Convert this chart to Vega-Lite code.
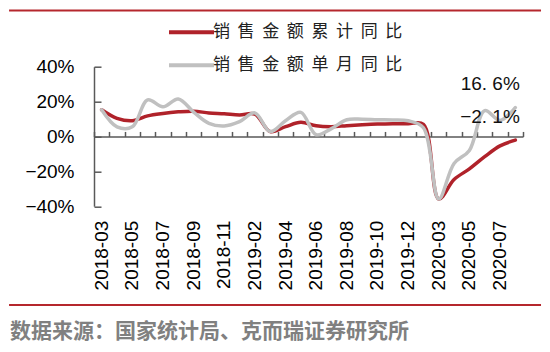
{
  "$schema": "https://vega.github.io/schema/vega-lite/v6.json",
  "width": 429,
  "height": 139.5,
  "autosize": {"type": "none"},
  "padding": {"left": 94, "top": 66.7, "right": 27, "bottom": 145.8},
  "background": "white",
  "config": {
    "view": {"stroke": null},
    "font": "Liberation Sans",
    "axisY": {"grid": false, "domainColor": "#595959", "domainWidth": 1.5, "tickColor": "#595959", "tickWidth": 1.5, "tickSize": -7, "labelPadding": 27, "labelFont": "Liberation Sans", "labelFontSize": 19, "labelColor": "#000000"}
  },
  "datasets": {
    "sales": [
      {"month": "2018-03", "series": "销售金额累计同比", "value": 15.3},
      {"month": "2018-04", "series": "销售金额累计同比", "value": 10.4},
      {"month": "2018-05", "series": "销售金额累计同比", "value": 9.0},
      {"month": "2018-06", "series": "销售金额累计同比", "value": 11.8},
      {"month": "2018-07", "series": "销售金额累计同比", "value": 13.2},
      {"month": "2018-08", "series": "销售金额累计同比", "value": 14.1},
      {"month": "2018-09", "series": "销售金额累计同比", "value": 14.5},
      {"month": "2018-10", "series": "销售金额累计同比", "value": 13.5},
      {"month": "2018-11", "series": "销售金额累计同比", "value": 13.0},
      {"month": "2018-12", "series": "销售金额累计同比", "value": 12.3},
      {"month": "2019-02", "series": "销售金额累计同比", "value": 12.8},
      {"month": "2019-03", "series": "销售金额累计同比", "value": 2.8},
      {"month": "2019-04", "series": "销售金额累计同比", "value": 5.6},
      {"month": "2019-05", "series": "销售金额累计同比", "value": 8.1},
      {"month": "2019-06", "series": "销售金额累计同比", "value": 6.1},
      {"month": "2019-07", "series": "销售金额累计同比", "value": 5.6},
      {"month": "2019-08", "series": "销售金额累计同比", "value": 6.2},
      {"month": "2019-09", "series": "销售金额累计同比", "value": 6.7},
      {"month": "2019-10", "series": "销售金额累计同比", "value": 7.1},
      {"month": "2019-11", "series": "销售金额累计同比", "value": 7.3},
      {"month": "2019-12", "series": "销售金额累计同比", "value": 7.3},
      {"month": "2020-02", "series": "销售金额累计同比", "value": 7.0},
      {"month": "2020-03", "series": "销售金额累计同比", "value": -35.9},
      {"month": "2020-04", "series": "销售金额累计同比", "value": -24.7},
      {"month": "2020-05", "series": "销售金额累计同比", "value": -18.6},
      {"month": "2020-06", "series": "销售金额累计同比", "value": -11.6},
      {"month": "2020-07", "series": "销售金额累计同比", "value": -5.4},
      {"month": "2020-08", "series": "销售金额累计同比", "value": -2.1, "note": "−2. 1%"},
      {"month": "2018-03", "series": "销售金额单月同比", "value": 15.3},
      {"month": "2018-04", "series": "销售金额单月同比", "value": 5.5},
      {"month": "2018-05", "series": "销售金额单月同比", "value": 5.5},
      {"month": "2018-06", "series": "销售金额单月同比", "value": 21.0},
      {"month": "2018-07", "series": "销售金额单月同比", "value": 17.0},
      {"month": "2018-08", "series": "销售金额单月同比", "value": 21.5},
      {"month": "2018-09", "series": "销售金额单月同比", "value": 14.0},
      {"month": "2018-10", "series": "销售金额单月同比", "value": 7.5},
      {"month": "2018-11", "series": "销售金额单月同比", "value": 6.0},
      {"month": "2018-12", "series": "销售金额单月同比", "value": 8.5},
      {"month": "2019-02", "series": "销售金额单月同比", "value": 13.5},
      {"month": "2019-03", "series": "销售金额单月同比", "value": 2.8},
      {"month": "2019-04", "series": "销售金额单月同比", "value": 9.0},
      {"month": "2019-05", "series": "销售金额单月同比", "value": 13.8},
      {"month": "2019-06", "series": "销售金额单月同比", "value": 1.0},
      {"month": "2019-07", "series": "销售金额单月同比", "value": 4.5},
      {"month": "2019-08", "series": "销售金额单月同比", "value": 9.6},
      {"month": "2019-09", "series": "销售金额单月同比", "value": 9.9},
      {"month": "2019-10", "series": "销售金额单月同比", "value": 9.6},
      {"month": "2019-11", "series": "销售金额单月同比", "value": 9.5},
      {"month": "2019-12", "series": "销售金额单月同比", "value": 9.0},
      {"month": "2020-02", "series": "销售金额单月同比", "value": 5.0},
      {"month": "2020-03", "series": "销售金额单月同比", "value": -35.9},
      {"month": "2020-04", "series": "销售金额单月同比", "value": -15.5},
      {"month": "2020-05", "series": "销售金额单月同比", "value": -8.0},
      {"month": "2020-06", "series": "销售金额单月同比", "value": 14.8},
      {"month": "2020-07", "series": "销售金额单月同比", "value": 9.2},
      {"month": "2020-08", "series": "销售金额单月同比", "value": 16.6, "note": "16. 6%"}
    ]
  },
  "title": {
    "text": "数据来源：国家统计局、克而瑞证券研究所",
    "orient": "bottom",
    "anchor": "start",
    "frame": "group",
    "dx": -84,
    "offset": 15,
    "font": "Noto Sans CJK SC",
    "fontWeight": "bold",
    "fontSize": 21,
    "color": "#808080",
    "baseline": "top"
  },
  "layer": [
    {
      "data": {"name": "sales"},
      "layer": [
        {
          "transform": [{"filter": "datum.series === '销售金额累计同比'"}],
          "mark": {"type": "line", "interpolate": "catmull-rom", "strokeWidth": 3.5, "strokeCap": "round"},
          "encoding": {
            "x": {
              "field": "month", "type": "ordinal",
              "scale": {"type": "band", "paddingInner": 0, "paddingOuter": 0},
              "axis": {
                "orient": "bottom", "domain": false, "ticks": false, "title": null,
                "values": ["2018-03", "2018-05", "2018-07", "2018-09", "2018-11", "2019-02", "2019-04", "2019-06", "2019-08", "2019-10", "2019-12", "2020-03", "2020-05", "2020-07"],
                "labelAngle": -90, "labelAlign": "right", "labelBaseline": "middle", "labelPadding": 14,
                "labelFont": "Liberation Sans", "labelFontSize": 19, "labelColor": "#000000", "labelOverlap": false
              }
            },
            "y": {"field": "value", "type": "quantitative", "scale": {"domain": [-40, 40]}, "axis": {"values": [-40, -20, 0, 20, 40], "labelExpr": "replace(datum.value + '%', '-', '−')", "title": null}},
            "color": {
              "field": "series", "type": "nominal",
              "scale": {"domain": ["销售金额累计同比", "销售金额单月同比"], "range": ["#B0222A", "#C0C0C0"]},
              "legend": {"orient": "none", "legendX": 73, "legendY": -59, "direction": "vertical", "title": null, "symbolType": "stroke", "symbolSize": 2025, "symbolStrokeWidth": 4, "labelFont": "Noto Sans CJK SC", "labelFontSize": 17, "labelColor": "#222222", "labelOffset": -3, "labelLimit": 400, "rowPadding": -12, "labelExpr": "join(split(datum.label, ''), '\u00a0\u00a0')"}
            }
          }
        },
        {
          "transform": [{"filter": "datum.series === '销售金额单月同比'"}],
          "mark": {"type": "line", "interpolate": "catmull-rom", "strokeWidth": 3.5, "strokeCap": "round"},
          "encoding": {
            "x": {
              "field": "month", "type": "ordinal",
              "scale": {"type": "band", "paddingInner": 0, "paddingOuter": 0},
              "axis": {"orient": "top", "offset": -69.75, "labels": false, "domain": true, "ticks": true, "tickBand": "extent", "tickSize": 5, "domainColor": "#595959", "domainWidth": 1.5, "tickColor": "#595959", "tickWidth": 1.5, "title": null}
            },
            "y": {"field": "value", "type": "quantitative", "scale": {"domain": [-40, 40]}, "axis": {"values": [-40, -20, 0, 20, 40], "labelExpr": "replace(datum.value + '%', '-', '−')", "title": null}},
            "color": {
              "field": "series", "type": "nominal",
              "scale": {"domain": ["销售金额累计同比", "销售金额单月同比"], "range": ["#B0222A", "#C0C0C0"]},
              "legend": {"orient": "none", "legendX": 73, "legendY": -59, "direction": "vertical", "title": null, "symbolType": "stroke", "symbolSize": 2025, "symbolStrokeWidth": 4, "labelFont": "Noto Sans CJK SC", "labelFontSize": 17, "labelColor": "#222222", "labelOffset": -3, "labelLimit": 400, "rowPadding": -12, "labelExpr": "join(split(datum.label, ''), '\u00a0\u00a0')"}
            }
          }
        },
        {
          "transform": [{"filter": "datum.note"}],
          "mark": {"type": "text", "align": "right", "baseline": "middle", "dx": 4.5, "dy": -23.5, "font": "Liberation Sans", "fontSize": 19, "color": "#111111"},
          "encoding": {
            "x": {"field": "month", "type": "ordinal", "scale": {"type": "band", "paddingInner": 0, "paddingOuter": 0}, "axis": null},
            "y": {"field": "value", "type": "quantitative", "scale": {"domain": [-40, 40]}, "axis": {"values": [-40, -20, 0, 20, 40], "labelExpr": "replace(datum.value + '%', '-', '−')", "title": null}},
            "text": {"field": "note"}
          }
        }
      ],
      "resolve": {"axis": {"x": "independent"}}
    },
    {
      "data": {"values": [{}]},
      "mark": {"type": "rule", "color": "#B5272D", "strokeWidth": 2},
      "encoding": {
        "x": {"datum": -0.198, "type": "quantitative", "scale": {"domain": [0, 1], "nice": false, "zero": false}, "axis": null},
        "x2": {"datum": 1.042},
        "y": {"datum": 72.3, "type": "quantitative", "scale": {"domain": [-40, 40]}, "axis": {"values": [-40, -20, 0, 20, 40], "labelExpr": "replace(datum.value + '%', '-', '−')", "title": null}}
      }
    },
    {
      "data": {"values": [{}]},
      "mark": {"type": "rule", "color": "#B5272D", "strokeWidth": 2},
      "encoding": {
        "x": {"datum": -0.198, "type": "quantitative", "scale": {"domain": [0, 1], "nice": false, "zero": false}, "axis": null},
        "x2": {"datum": 1.042},
        "y": {"datum": -96.7, "type": "quantitative", "scale": {"domain": [-40, 40]}, "axis": {"values": [-40, -20, 0, 20, 40], "labelExpr": "replace(datum.value + '%', '-', '−')", "title": null}}
      }
    }
  ],
  "resolve": {"scale": {"x": "independent"}, "axis": {"x": "independent"}}
}
